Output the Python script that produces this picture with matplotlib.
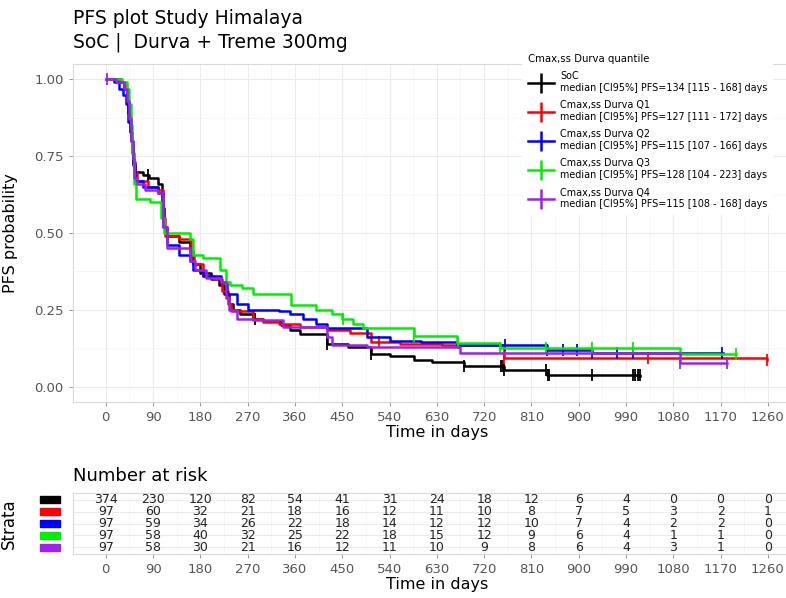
import numpy as np
import matplotlib.pyplot as plt
from matplotlib.lines import Line2D
import matplotlib.transforms as mtransforms
from matplotlib.patches import Rectangle

# Grupos y colores
strata = ['SoC', 'Cmax,ss Durva Q1', 'Cmax,ss Durva Q2', 'Cmax,ss Durva Q3', 'Cmax,ss Durva Q4']
colors = ['black', '#FF0000', '#0000FF', '#00EE00', '#A020F0']
medians = ['134 [115 - 168]', '127 [111 - 172]', '115 [107 - 166]', '128 [104 - 223]', '115 [108 - 168]']

# Curvas de Kaplan-Meier (tiempo, supervivencia tras el salto)
soc_t = [0, 25, 35, 40, 43, 46, 49, 52, 56, 70, 82, 100, 106, 110, 115, 140, 160, 165, 180, 200, 215, 225,
         235, 242, 255, 281, 300, 333, 350, 370, 421, 460, 504, 540, 586, 620, 681, 757, 840, 1017]
soc_s = [1.0, 0.99, 0.97, 0.94, 0.89, 0.83, 0.77, 0.72, 0.70, 0.69, 0.68, 0.66, 0.58, 0.52, 0.49, 0.47, 0.44,
         0.40, 0.37, 0.35, 0.33, 0.30, 0.27, 0.25, 0.235, 0.22, 0.215, 0.20, 0.185, 0.17, 0.14, 0.13, 0.107,
         0.10, 0.087, 0.08, 0.066, 0.055, 0.039, 0.033]
soc_cens = [80, 283, 421, 504, 681, 752, 755, 758, 838, 841, 843, 925, 1003, 1008, 1012, 1016]

q1_t = [0, 28, 36, 41, 44, 47, 50, 54, 60, 80, 100, 108, 112, 140, 162, 168, 185, 205, 222, 232, 238, 281,
        300, 330, 370, 420, 465, 504, 560, 640, 757, 1258]
q1_s = [1.0, 0.99, 0.97, 0.93, 0.88, 0.82, 0.76, 0.70, 0.67, 0.65, 0.64, 0.55, 0.49, 0.48, 0.43, 0.40, 0.36,
        0.35, 0.31, 0.27, 0.245, 0.22, 0.21, 0.205, 0.195, 0.185, 0.175, 0.146, 0.14, 0.135, 0.094, 0.088]
q1_cens = [520, 757, 1032, 1258]

q2_t = [0, 15, 25, 32, 38, 43, 47, 51, 55, 70, 100, 108, 116, 140, 160, 165, 185, 220, 230, 250, 270, 330,
        350, 375, 400, 420, 498, 540, 600, 669, 840, 925, 1175]
q2_s = [1.0, 0.99, 0.97, 0.95, 0.92, 0.86, 0.80, 0.73, 0.67, 0.65, 0.63, 0.52, 0.46, 0.43, 0.41, 0.38, 0.36,
        0.34, 0.30, 0.27, 0.25, 0.245, 0.235, 0.22, 0.205, 0.19, 0.16, 0.15, 0.145, 0.136, 0.12, 0.11, 0.11]
q2_cens = [760, 840, 871, 897, 925, 973, 1004, 1173]

q3_t = [0, 30, 40, 44, 47, 50, 53, 57, 85, 105, 110, 160, 165, 185, 218, 228, 237, 260, 281, 352, 400, 430,
        450, 470, 490, 586, 669, 750, 1093, 1200]
q3_s = [1.0, 0.99, 0.97, 0.92, 0.85, 0.76, 0.66, 0.61, 0.60, 0.55, 0.50, 0.48, 0.43, 0.42, 0.38, 0.34, 0.33,
        0.32, 0.30, 0.265, 0.25, 0.235, 0.22, 0.205, 0.19, 0.165, 0.142, 0.127, 0.107, 0.107]
q3_cens = [452, 586, 671, 750, 838, 925, 1004, 1200]

q4_t = [0, 20, 35, 41, 45, 48, 51, 54, 60, 75, 100, 108, 116, 160, 170, 190, 220, 228, 235, 250, 281, 338,
        421, 430, 498, 675, 1093, 1182]
q4_s = [1.0, 0.99, 0.97, 0.93, 0.87, 0.80, 0.74, 0.68, 0.66, 0.64, 0.63, 0.52, 0.45, 0.41, 0.38, 0.355, 0.34,
        0.29, 0.25, 0.22, 0.217, 0.195, 0.16, 0.136, 0.13, 0.11, 0.078, 0.078]
q4_cens = [2, 1093, 1182]

# Tabla de pacientes en riesgo
risk_times = [0, 90, 180, 270, 360, 450, 540, 630, 720, 810, 900, 990, 1080, 1170, 1260]
risk_soc = [374, 230, 120, 82, 54, 41, 31, 24, 18, 12, 6, 4, 0, 0, 0]
risk_q1 = [97, 60, 32, 21, 18, 16, 12, 11, 10, 8, 7, 5, 3, 2, 1]
risk_q2 = [97, 59, 34, 26, 22, 18, 14, 12, 12, 10, 7, 4, 2, 2, 0]
risk_q3 = [97, 58, 40, 32, 25, 22, 18, 15, 12, 9, 6, 4, 1, 1, 0]
risk_q4 = [97, 58, 30, 21, 16, 12, 11, 10, 9, 8, 6, 4, 3, 1, 0]

curves = [(soc_t, soc_s, soc_cens), (q1_t, q1_s, q1_cens), (q2_t, q2_s, q2_cens),
          (q3_t, q3_s, q3_cens), (q4_t, q4_s, q4_cens)]
risks = [risk_soc, risk_q1, risk_q2, risk_q3, risk_q4]

W, H = 786, 598
fig = plt.figure(figsize=(W / 100, H / 100), dpi=100)

grid_major = '#EBEBEB'
grid_minor = '#F4F4F4'
tick_col = '#555555'


def style_axes(ax):
    for sp in ax.spines.values():
        sp.set_color('#D9D9D9')
        sp.set_linewidth(0.8)
    ax.tick_params(axis='both', colors='#888888', labelcolor=tick_col, length=3, width=0.6, labelsize=9.5)
    ax.tick_params(which='minor', length=0)
    ax.grid(True, which='major', color=grid_major, lw=0.8)
    ax.grid(True, which='minor', color=grid_minor, lw=0.5)
    ax.set_axisbelow(True)


# Grafico principal
ax = fig.add_axes([72.7 / W, 1 - 402 / H, (801 - 72.7) / W, (402 - 64) / H])
for (t, s, c), col in zip(curves, colors):
    ax.step(t, s, where='post', color=col, lw=1.8)
    t_arr = np.array(t)
    s_arr = np.array(s)
    idx = np.searchsorted(t_arr, c, side='right') - 1
    ax.plot(c, s_arr[idx], ls='none', marker='|', ms=9, mew=1.3, color=col)

ax.set_xlim(-63, 1323)
ax.set_ylim(-0.05, 1.05)
ax.set_xticks(risk_times)
ax.set_xticks(np.arange(45, 1300, 90), minor=True)
ax.set_yticks([0, 0.25, 0.5, 0.75, 1.0])
ax.set_yticklabels(['0.00', '0.25', '0.50', '0.75', '1.00'])
ax.set_yticks([0.125, 0.375, 0.625, 0.875], minor=True)
style_axes(ax)
ax.set_xlabel('Time in days', fontsize=11.5, labelpad=1)
ax.set_ylabel('PFS probability', fontsize=11.5)
ax.yaxis.set_label_coords(-0.075, 0.5)

fig.text(73 / W, 1 - 19 / H, 'PFS plot Study Himalaya', fontsize=13.5, va='center', ha='left')
fig.text(73 / W, 1 - 42 / H, 'SoC |  Durva + Treme 300mg', fontsize=13.5, va='center', ha='left')

# Leyenda
handles = [Line2D([0], [0], color=col, lw=1.8, marker='|', ms=14, mew=1.8) for col in colors]
labels = [f'{n}\nmedian [CI95%] PFS={m} days' for n, m in zip(strata, medians)]
leg = fig.legend(handles, labels, title='Cmax,ss Durva quantile', loc='upper left',
                 bbox_to_anchor=(522 / W, 1 - 48 / H), fontsize=6.9, title_fontsize=7.3,
                 frameon=True, facecolor='white', edgecolor='none', framealpha=1,
                 handlelength=2.7, handletextpad=0.7, labelspacing=0.78, alignment='left',
                 borderaxespad=0, borderpad=0.6)

# Tabla de riesgo
axt = fig.add_axes([72.7 / W, 1 - 554 / H, (801 - 72.7) / W, (554 - 493) / H])
n = len(strata)
for i, (r, col) in enumerate(zip(risks, colors)):
    yy = n - i
    for tt, val in zip(risk_times, r):
        axt.text(tt, yy, str(val), ha='center', va='center', fontsize=9, color='#222222')
    axt.add_patch(Rectangle((-0.045, yy - 0.27), 0.027, 0.54, color=col, clip_on=False,
                            transform=mtransforms.blended_transform_factory(axt.transAxes, axt.transData)))
axt.set_xlim(-63, 1323)
axt.set_ylim(0.45, 5.55)
axt.set_xticks(risk_times)
axt.set_xticks(np.arange(45, 1300, 90), minor=True)
axt.set_yticks(range(1, n + 1))
axt.set_yticklabels([])
style_axes(axt)
axt.tick_params(axis='y', length=0)
axt.set_xlabel('Time in days', fontsize=11.5, labelpad=1)
axt.set_ylabel('Strata', fontsize=12)
axt.yaxis.set_label_coords(-0.075, 0.5)
fig.text(73 / W, 1 - 476 / H, 'Number at risk', fontsize=13, va='center', ha='left')

fig.savefig('out.png', dpi=100)
